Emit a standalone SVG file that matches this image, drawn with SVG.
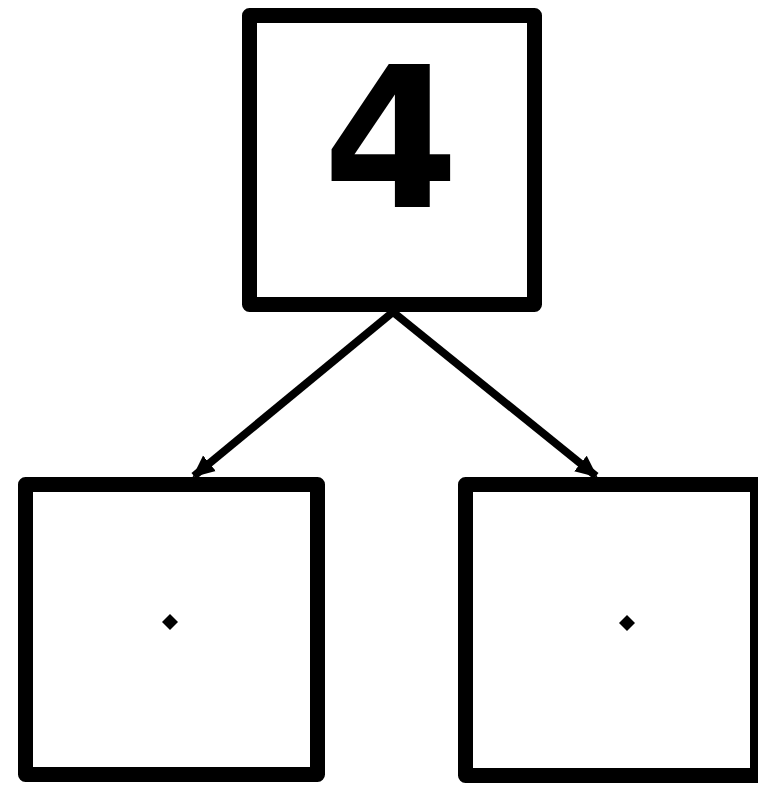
<svg xmlns="http://www.w3.org/2000/svg" width="758" height="788" viewBox="0 0 758 788">
<style>
.box{fill:#fff;stroke:#000;stroke-width:15;stroke-linejoin:round}
.edge{fill:none;stroke:#000;stroke-width:8}
.dot{fill:#000}
.lbl{font-family:"DejaVu Sans","Liberation Sans",sans-serif;font-weight:bold;font-size:196px;fill:#000;text-anchor:middle}
</style>
<defs>
<marker id="ah" markerUnits="userSpaceOnUse" markerWidth="24" markerHeight="24" refX="20" refY="10" orient="auto" viewBox="0 0 24 20">
<path d="M0,0 L22,10 L0,20 Z" fill="#000"/>
</marker>
</defs>
<rect width="758" height="788" fill="#fff"/>
<g id="connectors">
<line class="edge" x1="393" y1="312" x2="194" y2="476" marker-end="url(#ah)"/>
<line class="edge" x1="393" y1="312" x2="596" y2="476" marker-end="url(#ah)"/>
</g>
<g id="node-top">
<rect class="box" x="249.5" y="15.5" width="285" height="289"/>
<text class="lbl" x="391" y="207">4</text>
</g>
<g id="node-left">
<rect class="box" x="25.5" y="484.5" width="292" height="290"/>
<path class="dot" d="M170,614 L178,622 L170,630 L162,622 Z"/>
</g>
<g id="node-right">
<rect class="box" x="465.5" y="484.5" width="292" height="291"/>
<path class="dot" d="M627,615 L635,623 L627,631 L619,623 Z"/>
</g>
</svg>
